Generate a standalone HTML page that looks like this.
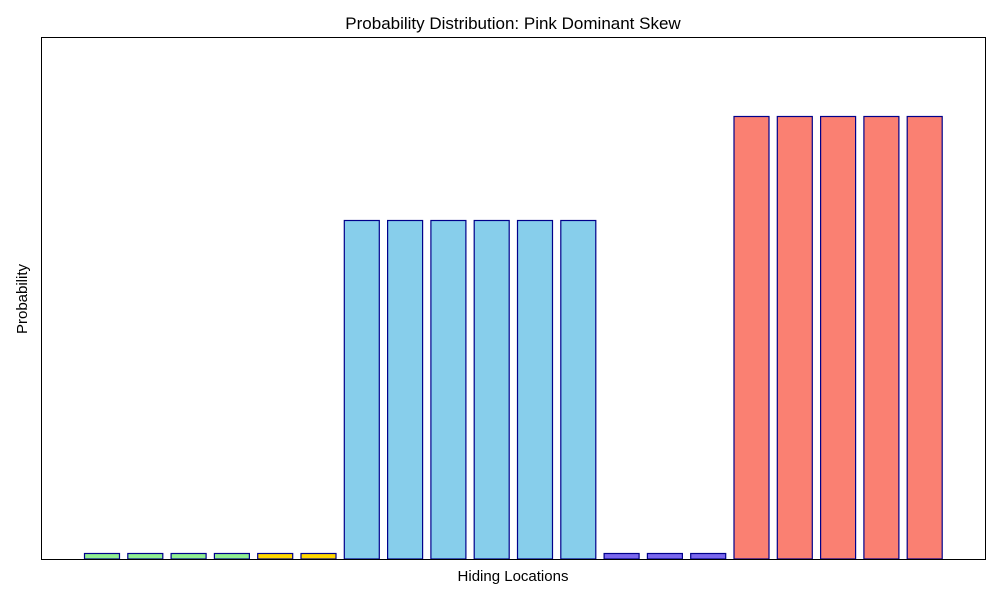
<!DOCTYPE html>
<html><head><style>body{margin:0;background:#fff}svg{display:block}text{font-family:"Liberation Sans",sans-serif;fill:#000}</style></head>
<body>
<svg width="1000" height="600" xmlns="http://www.w3.org/2000/svg">
<rect width="1000" height="600" fill="#fff"/>
<g stroke="#00008b" stroke-width="1.2">
<rect x="84.5" y="553.5" width="35" height="5.5" fill="#90ee90"/>
<rect x="127.8" y="553.5" width="35" height="5.5" fill="#90ee90"/>
<rect x="171.1" y="553.5" width="35" height="5.5" fill="#90ee90"/>
<rect x="214.4" y="553.5" width="35" height="5.5" fill="#90ee90"/>
<rect x="257.7" y="553.5" width="35" height="5.5" fill="#ffd700"/>
<rect x="301.0" y="553.5" width="35" height="5.5" fill="#ffd700"/>
<rect x="344.3" y="220.5" width="35" height="338.5" fill="#87ceeb"/>
<rect x="387.6" y="220.5" width="35" height="338.5" fill="#87ceeb"/>
<rect x="430.9" y="220.5" width="35" height="338.5" fill="#87ceeb"/>
<rect x="474.2" y="220.5" width="35" height="338.5" fill="#87ceeb"/>
<rect x="517.5" y="220.5" width="35" height="338.5" fill="#87ceeb"/>
<rect x="560.8" y="220.5" width="35" height="338.5" fill="#87ceeb"/>
<rect x="604.1" y="553.5" width="35" height="5.5" fill="#7b68ee"/>
<rect x="647.4" y="553.5" width="35" height="5.5" fill="#7b68ee"/>
<rect x="690.7" y="553.5" width="35" height="5.5" fill="#7b68ee"/>
<rect x="734.0" y="116.5" width="35" height="442.5" fill="#fa8072"/>
<rect x="777.3" y="116.5" width="35" height="442.5" fill="#fa8072"/>
<rect x="820.6" y="116.5" width="35" height="442.5" fill="#fa8072"/>
<rect x="863.9" y="116.5" width="35" height="442.5" fill="#fa8072"/>
<rect x="907.2" y="116.5" width="35" height="442.5" fill="#fa8072"/>
</g>
<rect x="41.5" y="37.5" width="944" height="522" fill="none" stroke="#000" stroke-width="1"/>
<text x="513" y="29" font-size="17" text-anchor="middle">Probability Distribution: Pink Dominant Skew</text>
<text x="513" y="581" font-size="15" text-anchor="middle">Hiding Locations</text>
<text x="27" y="299" font-size="15" text-anchor="middle" transform="rotate(-90 27 299)">Probability</text>
</svg>
</body></html>
